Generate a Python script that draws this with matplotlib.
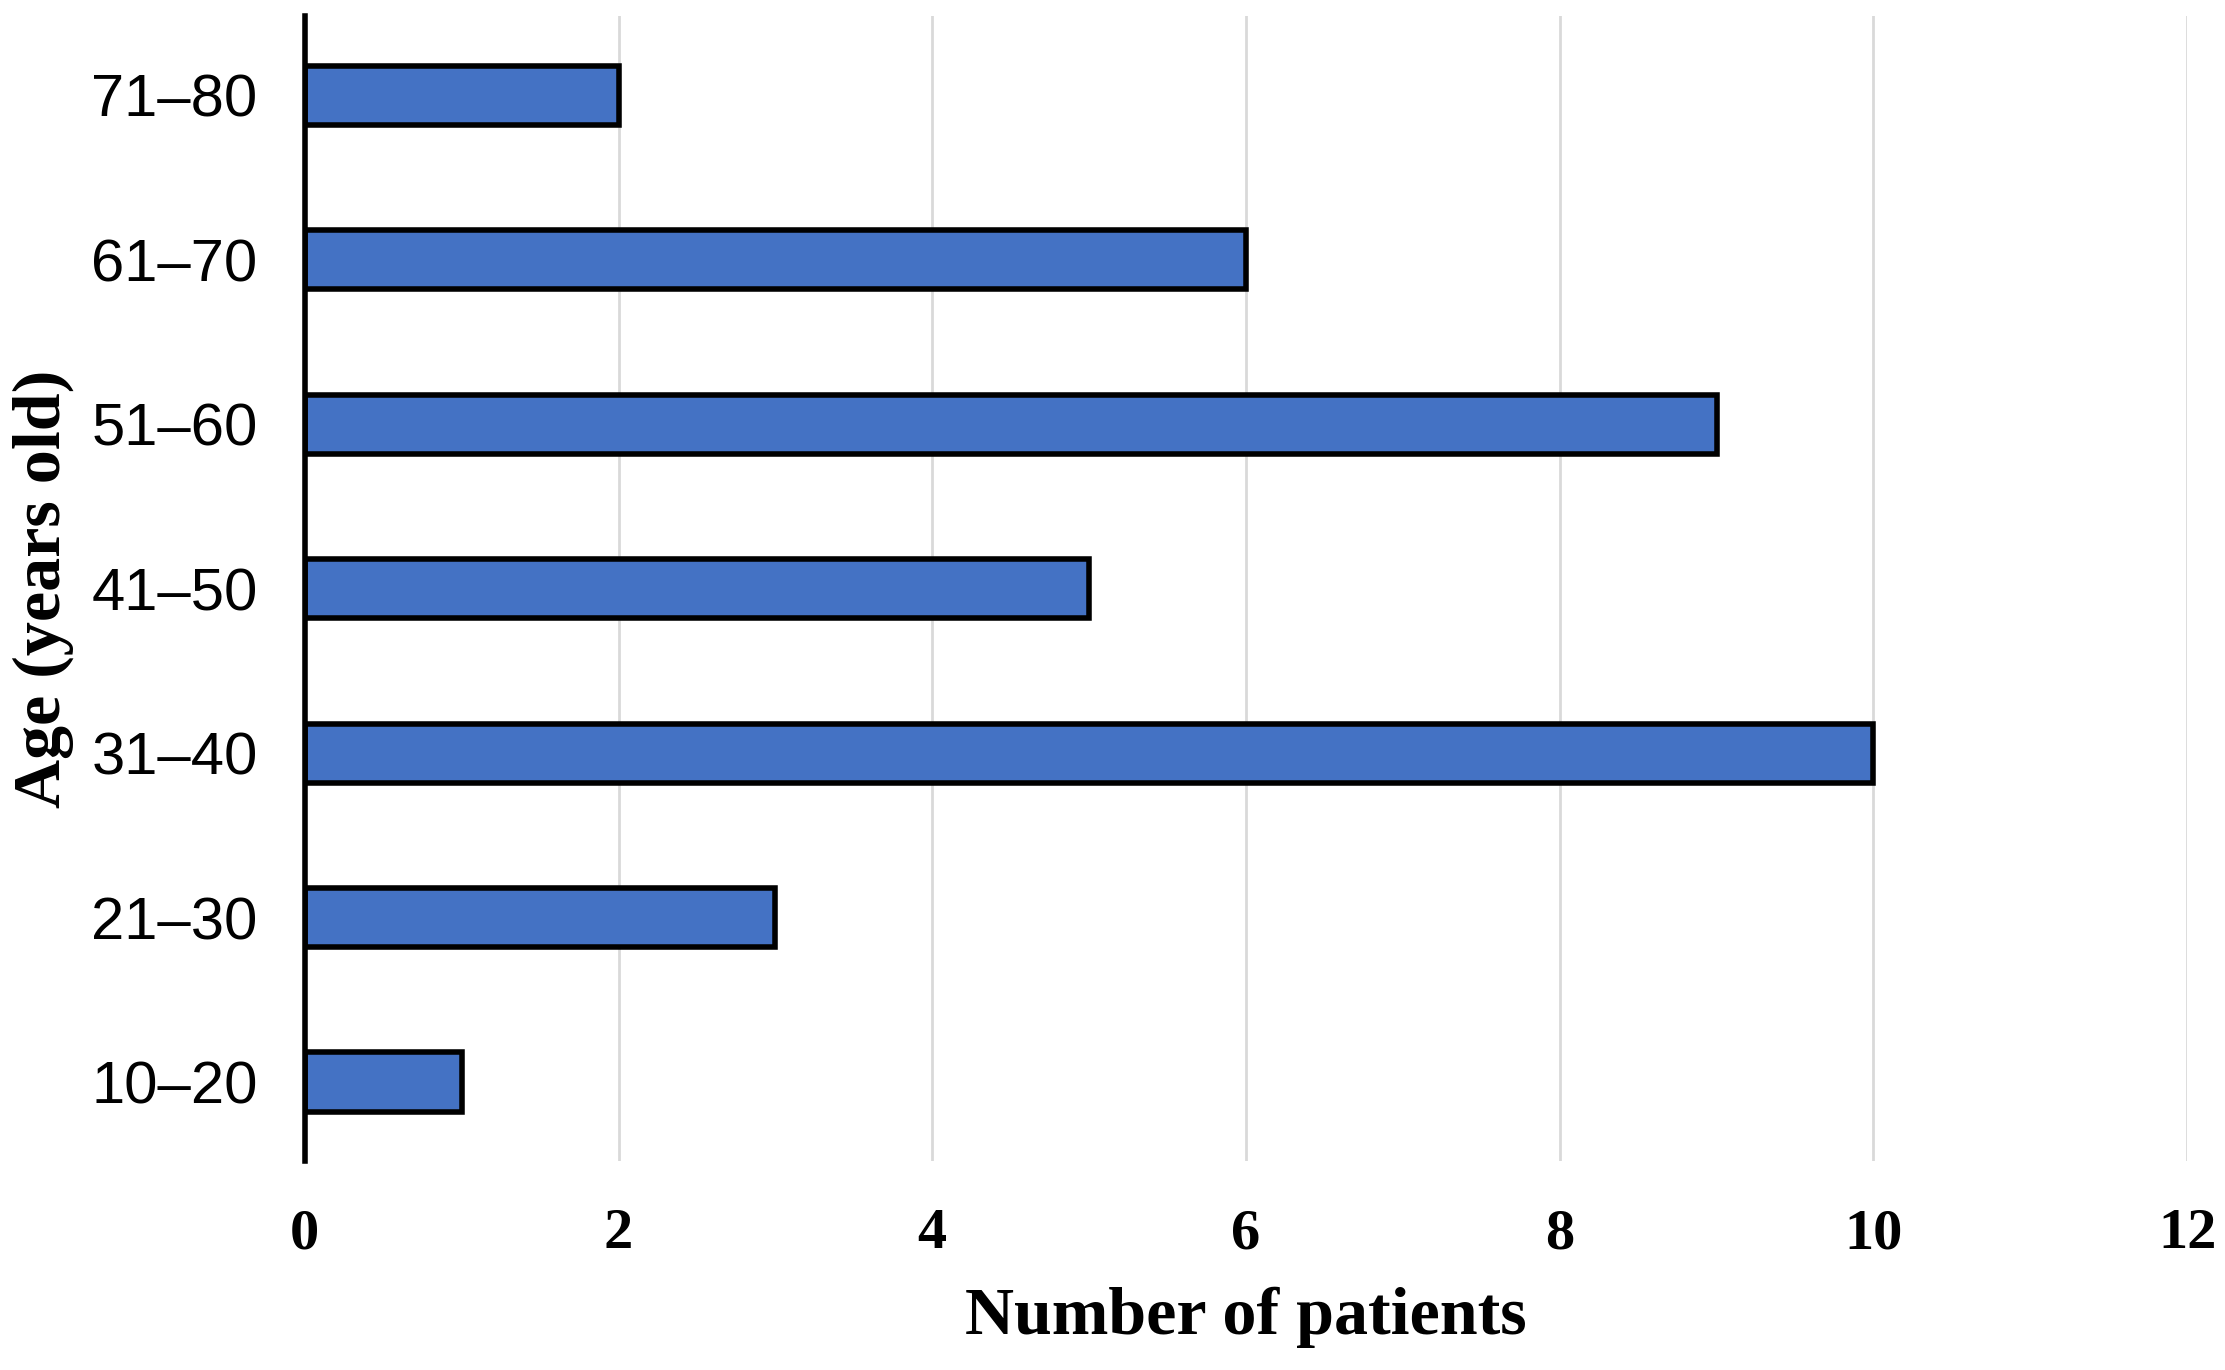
import numpy as np
import matplotlib.pyplot as plt

age_groups = ['10–20', '21–30', '31–40', '41–50', '51–60', '61–70', '71–80']
patients = [1, 3, 10, 5, 9, 6, 2]
x_ticks = [0, 2, 4, 6, 8, 10, 12]

fig = plt.figure(figsize=(22.25, 13.7), dpi=100)
ax = fig.add_axes([0.137, 0.1526, 0.846, 0.8354])

y_pos = np.arange(len(age_groups))
ax.barh(y_pos, patients, height=0.36, color='#4472C4', edgecolor='black',
        linewidth=4, zorder=3)

ax.set_xlim(0, 12)
ax.set_ylim(-0.48, 6.48)
ax.set_xticks(x_ticks)
ax.set_xticklabels([str(t) for t in x_ticks], fontfamily='Liberation Serif',
                   fontweight='bold', fontsize=42)
ax.set_yticks(y_pos)
ax.set_yticklabels(age_groups, fontfamily='Liberation Sans', fontsize=43)
ax.tick_params(axis='x', length=0, pad=34)
ax.tick_params(axis='y', length=0, pad=34)

ax.grid(axis='x', color='#d9d9d9', linewidth=2, zorder=0)
for s in ['top', 'right', 'bottom']:
    ax.spines[s].set_visible(False)
ax.spines['left'].set_linewidth(4)
ax.spines['left'].set_zorder(4)

# axis titles
fig.text(0.56, 0.0387, 'Number of patients', fontfamily='Liberation Serif',
         fontweight='bold', fontsize=49, ha='center', va='center')
fig.text(0.0193, 0.57, 'Age (years old)', fontfamily='Liberation Serif',
         fontweight='bold', fontsize=49, ha='center', va='center', rotation=90)

fig.savefig('out.png', dpi=100)
